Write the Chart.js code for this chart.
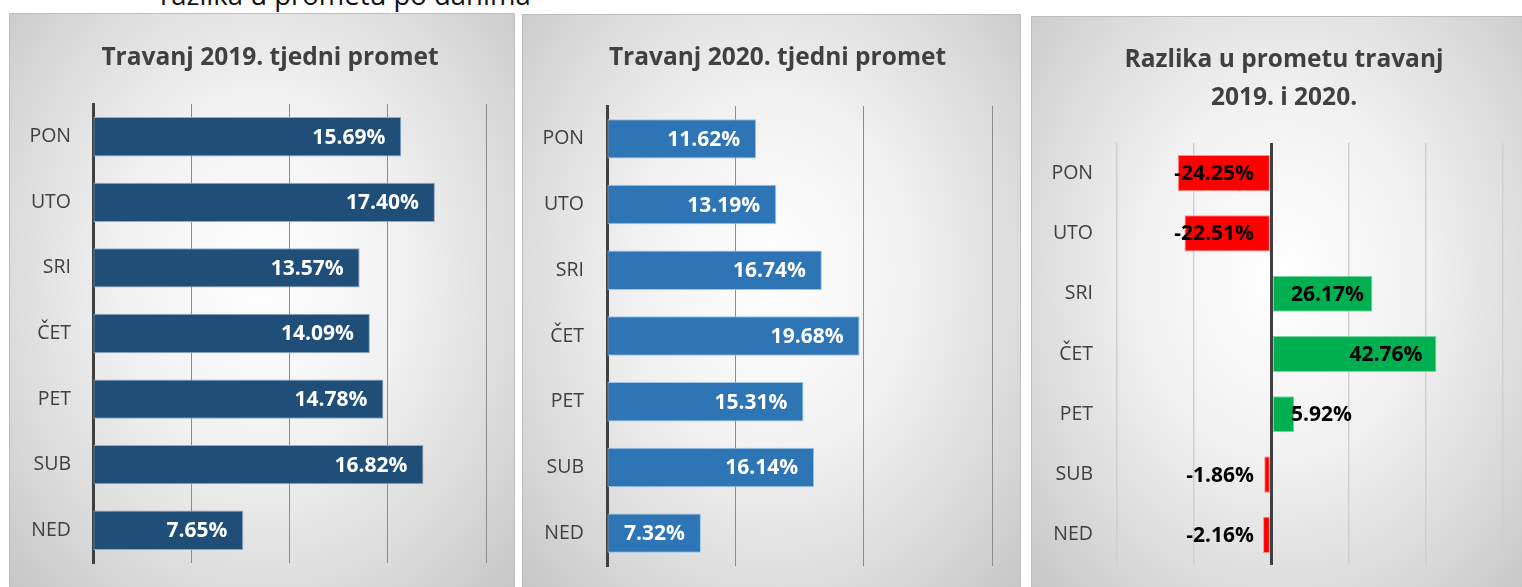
<!DOCTYPE html>
<html>
<head>
<meta charset="utf-8">
<script src="https://cdn.jsdelivr.net/npm/chart.js@4"></script>
<style>
  html, body { margin: 0; padding: 0; background: #fff; overflow: hidden; }
  body { width: 1522px; height: 587px; position: relative; font-family: "Open Sans", sans-serif; }
  .top-text { position: absolute; left: 160px; top: -19px; font-size: 27.5px; line-height: 28px; color: #111; white-space: nowrap; }
  .panel { position: absolute; box-sizing: border-box; border: 1px solid #bdbdbd;
    background: radial-gradient(ellipse farthest-corner at 50% 45%, #ffffff 0%, #f1f1f1 40%, #d9d9d9 75%, #c6c6c6 100%); }
  .panel canvas { position: absolute; left: 0; top: 0; }
  .naslov { position: absolute; left: 0; text-align: center; font-weight: bold; font-size: 24.5px; color: #404040; white-space: nowrap; }
</style>
</head>
<body>
<div class="top-text">razlika u prometu po danima</div>
<div class="panel" style="left:9px; top:13px; width:506px; height:580px;">
  <canvas id="chart2019"></canvas>
  <div class="naslov" style="top:27px; width:520px; line-height:30px;">Travanj 2019. tjedni promet</div>
</div>
<div class="panel" style="left:522px; top:14px; width:499px; height:580px;">
  <canvas id="chart2020"></canvas>
  <div class="naslov" style="top:26px; width:509px; line-height:30px;">Travanj 2020. tjedni promet</div>
</div>
<div class="panel" style="left:1031px; top:16px; width:500px; height:580px;">
  <canvas id="chartRazlika"></canvas>
  <div class="naslov" style="top:22px; width:504px; line-height:38px;">Razlika u prometu travanj<br>2019. i 2020.</div>
</div>
<script>
// Dani u tjednu
var dani = ['PON', 'UTO', 'SRI', 'ČET', 'PET', 'SUB', 'NED'];

// Travanj 2019. udio prometa po danima (%)
var promet2019 = [15.69, 17.40, 13.57, 14.09, 14.78, 16.82, 7.65];

// Travanj 2020. udio prometa po danima (%)
var promet2020 = [11.62, 13.19, 16.74, 19.68, 15.31, 16.14, 7.32];

// Razlika u prometu (%)
var razlika = [-24.25, -22.51, 26.17, 42.76, 5.92, -1.86, -2.16];

Chart.defaults.font.family = '"Open Sans", sans-serif';
Chart.defaults.animation = false;

function sizeCanvas(id, w, h) {
    var c = document.getElementById(id);
    c.width = w; c.height = h;
    c.style.width = w + 'px'; c.style.height = h + 'px';
    return c.getContext('2d');
}

// oznake vrijednosti na stupcima (kao "inside end" u Excelu)
var oznakePlugin = {
    id: 'oznake',
    afterDatasetsDraw: function(chart, args, opts) {
        var ctx = chart.ctx;
        var meta = chart.getDatasetMeta(0);
        var data = chart.data.datasets[0].data;
        ctx.save();
        ctx.font = 'bold 21px "Open Sans", sans-serif';
        ctx.fillStyle = opts.color;
        ctx.textBaseline = 'middle';
        meta.data.forEach(function(bar, i) {
            var v = data[i];
            var txt = v.toFixed(2) + '%';
            var w = ctx.measureText(txt).width;
            var left;
            if (v >= 0) {
                left = bar.x - opts.pad - w;
                if (opts.clamp && left < bar.base + 18) left = bar.base + 18;
            } else {
                left = bar.x + opts.pad;
                if (left + w > bar.base - 16) left = bar.base - 16 - w;
            }
            ctx.textAlign = 'left';
            ctx.fillText(txt, left, bar.y + 1);
        });
        ctx.restore();
    }
};

function tjedniChart(id, w, h, vrijednosti, boja, rub, opcije) {
    var ctx = sizeCanvas(id, w, h);
    return new Chart(ctx, {
        type: 'bar',
        data: {
            labels: dani,
            datasets: [{
                data: vrijednosti,
                backgroundColor: boja,
                borderColor: rub,
                borderWidth: 1,
                borderSkipped: false,
                barPercentage: 0.6,
                categoryPercentage: 1
            }]
        },
        options: {
            indexAxis: 'y',
            responsive: false,
            layout: { padding: { left: 0, right: opcije.right, top: opcije.top, bottom: opcije.bottom } },
            scales: {
                x: {
                    min: opcije.min,
                    max: opcije.max,
                    afterFit: function(scale) {
                        scale.height = 0;
                        scale.paddingLeft = 0; scale.paddingRight = 0;
                    },
                    ticks: { display: false, stepSize: opcije.step },
                    border: { display: false },
                    grid: {
                        drawTicks: false,
                        color: opcije.gridColor,
                        lineWidth: opcije.gridWidth
                    }
                },
                y: {
                    afterFit: function(scale) {
                        scale.width = opcije.yWidth;
                        scale.paddingTop = 0; scale.paddingBottom = 0;
                    },
                    ticks: { color: '#404040', font: { size: 19.5 }, padding: opcije.tickPad },
                    grid: { display: false, drawTicks: false },
                    border: { display: opcije.yBorder, color: '#404040', width: 3 }
                }
            },
            plugins: {
                legend: { display: false },
                tooltip: { enabled: false },
                title: { display: false },
                oznake: opcije.oznake
            }
        },
        plugins: [oznakePlugin]
    });
}

// Travanj 2019.
tjedniChart('chart2019', 506, 574, promet2019, '#1F4E79', '#8fa9c6', {
    top: 90, right: 30, bottom: 25, min: 0, max: 20, step: 5,
    gridColor: '#8c8c8c', gridWidth: 1, yWidth: 83, tickPad: 22, yBorder: true,
    oznake: { color: '#ffffff', pad: 16, clamp: false }
});

// Travanj 2020.
tjedniChart('chart2020', 499, 573, promet2020, '#2E75B6', '#9dc3e6', {
    top: 91, right: 30, bottom: 22, min: 0, max: 30, step: 10,
    gridColor: '#8c8c8c', gridWidth: 1, yWidth: 84, tickPad: 23, yBorder: true,
    oznake: { color: '#ffffff', pad: 16, clamp: false }
});

// Razlika
tjedniChart('chartRazlika', 491, 571, razlika,
    razlika.map(function(v) { return v < 0 ? '#FF0000' : '#00B050'; }),
    razlika.map(function(v) { return v < 0 ? '#ff8c8c' : '#7fd6a6'; }), {
    top: 126, right: 20, bottom: 23, min: -40, max: 60, step: 20,
    gridColor: function(c) { return c.tick && c.tick.value === 0 ? '#404040' : '#cfcfcf'; },
    gridWidth: function(c) { return c.tick && c.tick.value === 0 ? 3 : 1.5; },
    yWidth: 85, tickPad: 24, yBorder: false,
    oznake: { color: '#000000', pad: 14, clamp: true }
});
</script>
</body>
</html>
